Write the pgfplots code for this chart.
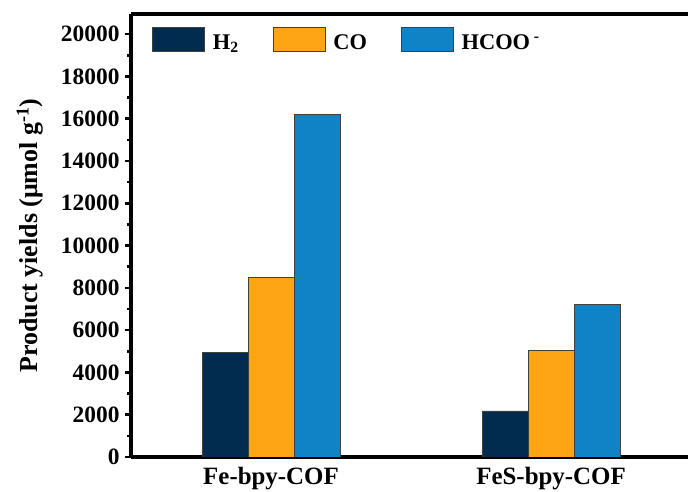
\documentclass[border=0pt]{standalone}
\usepackage{fontspec}
\setmainfont{Liberation Serif}
\usepackage{pgfplots}
\pgfplotsset{compat=1.18}
\definecolor{cH}{RGB}{2,43,80}
\definecolor{cCO}{RGB}{253,165,20}
\definecolor{cHC}{RGB}{16,131,198}
\begin{document}
\begin{tikzpicture}
\useasboundingbox (-131bp,-35bp) rectangle (557bp,457bp);
\begin{axis}[
  at={(0,0)}, anchor=south west,
  scale only axis, width=557bp, height=443bp,
  xmin=-0.5, xmax=1.489, ymin=0, ymax=20950,
  axis x line*=box, axis y line*=left,
  axis line style={line width=3.4bp},
  ybar=0pt, bar width=46bp,
  xtick={0,1}, xticklabels={Fe-bpy-COF,FeS-bpy-COF},
  x tick style={draw=none},
  ytick={0,2000,...,20000}, minor y tick num=1,
  scaled y ticks=false,
  ytick pos=left, tick align=outside,
  y tick style={line width=2.6bp, black},
  major tick length=6bp, minor tick length=3.5bp,
  /pgf/number format/assume math mode=true,
  /pgf/number format/1000 sep={},
  y tick label style={font=\fontsize{23.5}{23.5}\selectfont\bfseries, xshift=-2bp},
  x tick label style={font=\fontsize{25}{25}\selectfont\bfseries, yshift=-1bp},
  ylabel={Product yields (μmol g\textsuperscript{-1})},
  ylabel style={font=\fontsize{26}{26}\selectfont\bfseries, at={(-101bp,0.5)}, anchor=center, rotate=0},
  legend columns=3,
  legend style={draw=none, fill=none, at={(18bp,432bp)}, anchor=north west,
    font=\fontsize{22.5}{22.5}\selectfont\bfseries,
    /tikz/every even column/.append style={column sep=32bp}},
  legend image code/.code={\draw[#1] (0bp,-9bp) rectangle (52bp,15bp);},
  legend cell align=left,
]
\addplot[fill=cH, draw=black!75, line width=0.7bp] coordinates {(0,4950) (1,2180)};
\addplot[fill=cCO, draw=black!75, line width=0.7bp] coordinates {(0,8500) (1,5030)};
\addplot[fill=cHC, draw=black!75, line width=0.7bp] coordinates {(0,16200) (1,7200)};
\legend{\hspace{6bp}H\textsubscript{2}, \hspace{6bp}CO, \hspace{6bp}HCOO\,\textsuperscript{-}}
\end{axis}
\end{tikzpicture}
\end{document}
